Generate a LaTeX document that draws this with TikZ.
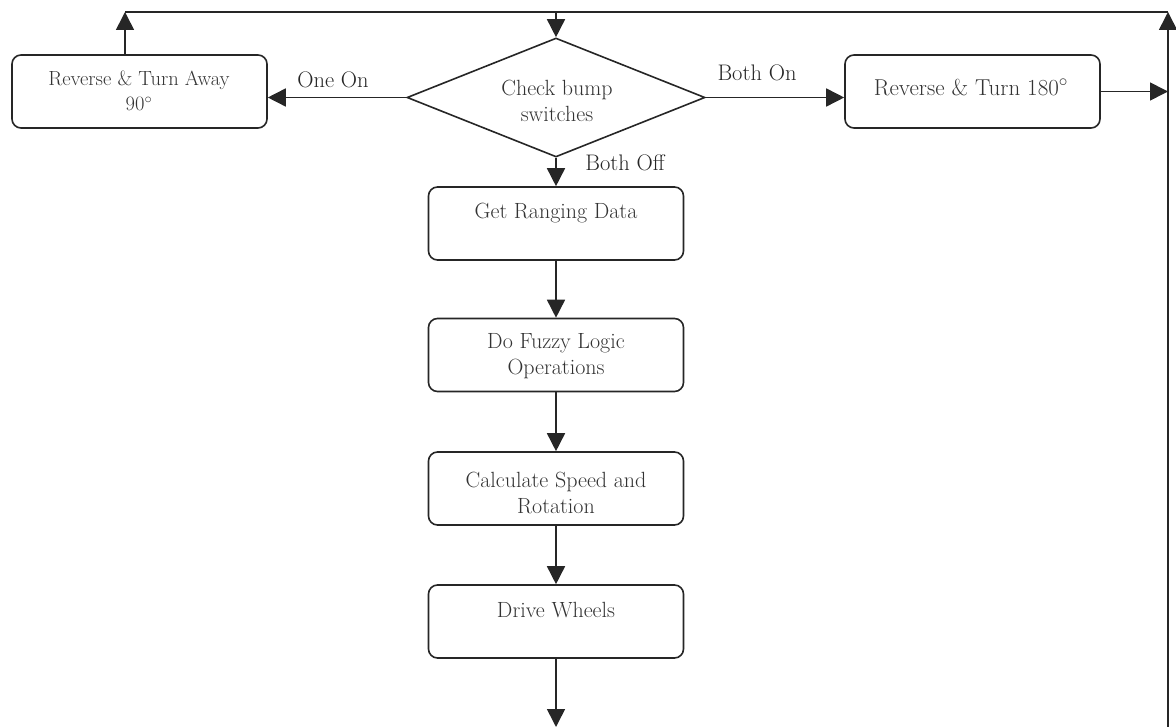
\documentclass[tikz,border=0pt]{standalone}
\usetikzlibrary{shapes.geometric,arrows.meta}
\begin{document}
\begin{tikzpicture}[x=1pt,y=-1pt,
  line width=1.6pt,
  box/.style={draw=black!85,rounded corners=9pt,minimum width=255pt,minimum height=73pt,inner sep=0pt},
  dia/.style={draw=black!85,diamond,minimum width=298pt,minimum height=119pt,inner sep=0pt},
  txt/.style={text=black!80,align=center,font=\fontsize{22}{26}\selectfont,inner sep=0pt},
  stxt/.style={text=black!80,align=center,font=\fontsize{20.5}{24}\selectfont,inner sep=0pt},
  btxt/.style={text=black!80,align=center,font=\fontsize{23}{26}\selectfont,inner sep=0pt},
  lbl/.style={text=black!85,font=\fontsize{22.5}{26}\selectfont,inner sep=0pt},
  arr/.style={draw=black!85,-{Triangle[length=18pt,width=18pt]}},
  ln/.style={draw=black!85}]
\useasboundingbox (0,0) rectangle (1176,727);
% boxes
\node[box] (r90) at (139.5,91.5) {};
\node[box] (r180) at (972.5,91.5) {};
\node[dia] (chk) at (556,97.5) {};
\node[box] (gr) at (556,223.5) {};
\node[box] (fz) at (556,355) {};
\node[box] (cs) at (556,488.5) {};
\node[box] (dw) at (556,621.5) {};
% texts
\node[stxt] (r90t) at (139,91) {Reverse \& Turn Away\\[1pt]90$^{\circ}$};
\node[btxt] (r180t) at (971,87) {Reverse \& Turn 180$^{\circ}$};
\node[txt] (chkt) at (557,101) {Check bump\\switches};
\node[txt] (grt) at (556,213) {Get Ranging Data};
\node[txt] (fzt) at (556,356.5) {Do Fuzzy Logic\\Operations};
\node[txt] (cst) at (556,492.5) {Calculate Speed and\\Rotation};
\node[txt] (dwt) at (556,610) {Drive Wheels};
% frame coordinates
\coordinate (tl) at (125,12);
\coordinate (tm) at (556,12);
\coordinate (tr) at (1168,12);
\coordinate (br) at (1168,727);
\coordinate (bm) at (556,727);
% connectors
\draw[arr] (tl |- r90.north) -- (tl);
\draw[ln] (tl) -- (tr);
\draw[arr] (tm) -- (chk.north);
\draw[arr] (br) -- (tr);
\draw[arr] (r180.east) -- (r180.east -| tr);
\draw[arr] (chk.west) -- (chk.west -| r90.east);
\draw[arr] (chk.east) -- (chk.east -| r180.west);
\draw[arr] (chk.south) -- (gr.north);
\draw[arr] (gr.south) -- (fz.north);
\draw[arr] (fz.south) -- (cs.north);
\draw[arr] (cs.south) -- (dw.north);
\draw[arr] (dw.south) -- (bm);
% labels
\node[lbl] (oneon) at (333,80) {One On};
\node[lbl] (bothon) at (757,73) {Both On};
\node[lbl] (bothoff) at (625,163) {Both Off};
\end{tikzpicture}
\end{document}
